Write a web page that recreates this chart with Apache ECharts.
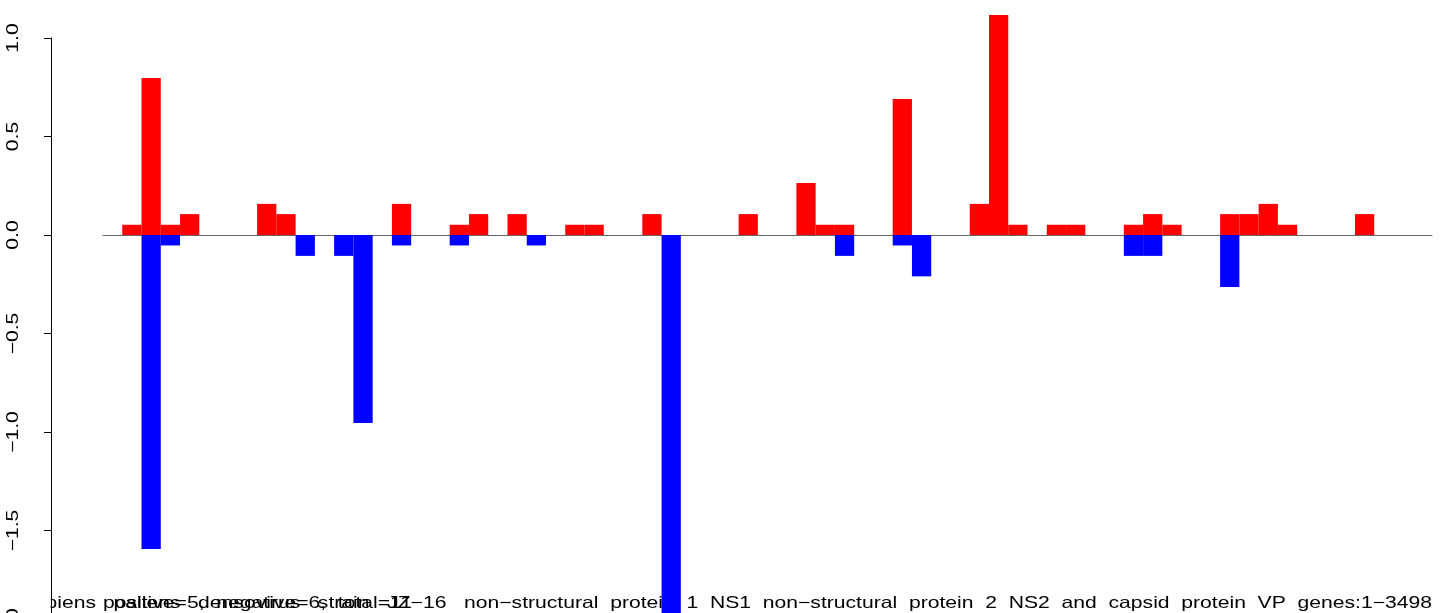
<!DOCTYPE html>
<html>
<head>
<meta charset="utf-8">
<script src="https://cdn.jsdelivr.net/npm/echarts@6/dist/echarts.min.js"></script>
<style>
html,body{margin:0;padding:0;background:#fff;}
#chart{width:1444px;height:613px;}
</style>
</head>
<body>
<div id="chart"></div>
<script>
// 69 bar slots (slot 0 is empty, as in the reference plot)
const slots = Array.from({length: 69}, (_, i) => String(i));
// positive values (red), indexed by slot
const redPairs = [
  [1,0.052],[2,0.797],[3,0.052],[4,0.106],[8,0.158],[9,0.106],[15,0.158],[18,0.052],[19,0.106],
  [21,0.106],[24,0.052],[25,0.052],[28,0.106],[33,0.106],[36,0.264],[37,0.052],[38,0.052],
  [41,0.69],[45,0.158],[46,1.117],[47,0.052],[49,0.052],[50,0.052],[53,0.052],[54,0.106],
  [55,0.052],[58,0.106],[59,0.106],[60,0.158],[61,0.052],[65,0.106]
];
// negative values (blue), indexed by slot
const bluePairs = [
  [2,-1.594],[3,-0.053],[10,-0.106],[12,-0.106],[13,-0.954],[15,-0.053],[18,-0.053],[22,-0.053],
  [29,-2.1],[38,-0.106],[41,-0.053],[42,-0.21],[53,-0.106],[54,-0.106],[58,-0.264]
];
const yTicks = [-2, -1.5, -1, -0.5, 0, 0.5, 1];
const labelAParts = ["positive=5,", "negative=6,", "total=11"];
const labelBHead = ["Culex","pipiens","pallens","densovirus","strain","JZ\u221216"];
const labelBTail = ["non\u2212structural","protein","1","NS1","non\u2212structural","protein","2","NS2",
  "and","capsid","protein","VP","genes:1\u22123498"];

function fill(pairs){
  const arr = slots.map(() => null);
  pairs.forEach(p => { arr[p[0]] = p[1]; });
  return arr;
}
const redData = fill(redPairs);
const blueData = fill(bluePairs);

const chart = echarts.init(document.getElementById('chart'), null, {renderer: 'canvas'});
const font = '"Liberation Sans", Arial, Helvetica, sans-serif';
const FS = 16.5, SX = 1.28;
const option = {
  animation: false,
  backgroundColor: '#fff',
  grid: [
    {left: 103, right: 12, top: 8.45, height: 620.55, outerBoundsMode: 'none', containLabel: false},
    {left: 51, width: 1, top: 38, height: 591, outerBoundsMode: 'none', containLabel: false}
  ],
  xAxis: [
    {type: 'category', gridIndex: 0, data: slots, boundaryGap: true,
     axisLine: {show: true, onZero: true, lineStyle: {color: '#666', width: 1}},
     axisTick: {show: false}, axisLabel: {show: false}, splitLine: {show: false}},
    {type: 'value', gridIndex: 1, show: false}
  ],
  yAxis: [
    {type: 'value', gridIndex: 0, min: -2, max: 1.15, show: false, splitLine: {show: false}},
    {type: 'value', gridIndex: 1, min: yTicks[0], max: yTicks[yTicks.length-1], interval: 0.5, z: 10,
     axisLine: {show: true, lineStyle: {color: '#000', width: 1}},
     axisTick: {show: true, length: 7, inside: false, lineStyle: {color: '#000'}},
     splitLine: {show: false},
     axisLabel: {show: false}}
  ],
  series: [
    {type: 'bar', xAxisIndex: 0, yAxisIndex: 0, data: redData, z: 3, barCategoryGap: '0%', barGap: '-100%',
     itemStyle: {color: '#FF0000'}},
    {type: 'bar', xAxisIndex: 0, yAxisIndex: 0, data: blueData, z: 3, barCategoryGap: '0%', barGap: '-100%',
     itemStyle: {color: '#0000FF'}}
  ]
};
chart.setOption(option);

// tick labels (rotated, widened along the text like the reference device font)
const graphics = yTicks.map(v => ({
  type: 'text', z: 10, x: 13, y: chart.convertToPixel({yAxisIndex: 1}, v),
  rotation: Math.PI / 2, scaleX: SX,
  style: {text: v.toFixed(1).replace('-', '\u2212'), font: FS + 'px ' + font, fill: '#000',
          align: 'center', verticalAlign: 'middle'}
}));
const step = chart.convertToPixel({xAxisIndex: 0}, slots[1]) - chart.convertToPixel({xAxisIndex: 0}, slots[0]);
const xStart = chart.convertToPixel({xAxisIndex: 0}, slots[0]) - step / 2;
const xEnd = chart.convertToPixel({xAxisIndex: 0}, slots[slots.length - 1]) + step / 2;
const labelB = labelBHead.join('   ') + '   ' + labelBTail.join('  ');
graphics.push(
  {type: 'text', z: 1, x: xStart, y: 603, scaleX: SX,
   style: {text: labelAParts.join('  '), font: FS + 'px ' + font, fill: '#000', align: 'left', verticalAlign: 'middle'}},
  {type: 'text', z: 1, x: xEnd, y: 603, scaleX: SX,
   style: {text: labelB, font: FS + 'px ' + font, fill: '#000', align: 'right', verticalAlign: 'middle'}},
  {type: 'rect', z: 2, shape: {x: 0, y: 585, width: 50.5, height: 28}, style: {fill: '#fff'}}
);
chart.setOption({graphic: graphics});
</script>
</body>
</html>
